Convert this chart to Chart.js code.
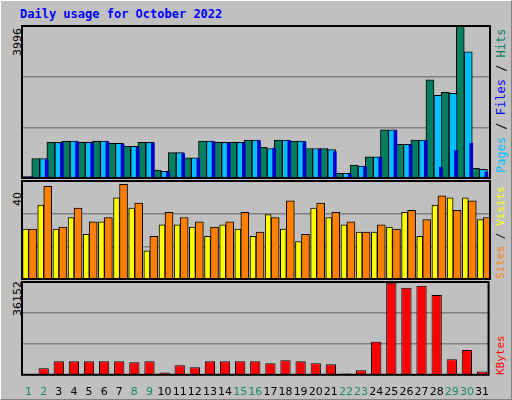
<!DOCTYPE html>
<html>
<head>
<meta charset="utf-8">
<script src="https://cdn.jsdelivr.net/npm/chart.js@4"></script>
<style>
  html, body { margin: 0; padding: 0; background: #c0c0c0; }
  #wrap { position: relative; width: 510px; height: 398px; border-top: 1px solid #fff; border-left: 1px solid #fff;
          border-right: 1px solid #808080; border-bottom: 1px solid #808080; overflow: hidden; }
  canvas { position: absolute; }
  .t { position: absolute; font-family: "DejaVu Sans Mono", monospace; font-size: 12px; white-space: nowrap; }
  .rot { transform-origin: 0 0; transform: rotate(-90deg); font-family: "DejaVu Sans", sans-serif; font-size: 11px; }
  .rmono { font-family: "DejaVu Sans Mono", monospace; }
</style>
</head>
<body>
<div id="wrap">
  <div class="t" style="left:19px;top:6px;color:#0000ff;font-weight:bold;">Daily usage for October 2022</div>
  <div class="t rot" style="left:10px;top:55px;color:#000;">3996</div>
  <div class="t rot" style="left:10px;top:205px;color:#000;">40</div>
  <div class="t rot" style="left:10px;top:315px;color:#000;">36152</div>
  <div class="t rot rmono" style="left:493px;top:172px;font-size:12px;"><span style="color:#00bfff">Pages</span> / <span style="color:#0000ff">Files</span> / <span style="color:#007f60">Hits</span></div>
  <div class="t rot rmono" style="left:493px;top:278px;"><span style="color:#ff8000">Sites</span> / <span style="color:#ffff00">Visits</span></div>
  <div class="t rot rmono" style="left:493px;top:374px;"><span style="color:#ff0000">KBytes</span></div>
  <canvas id="c1" style="left:20px;top:24px;width:470px;height:154px"></canvas>
  <canvas id="c2" style="left:20px;top:179px;width:470px;height:100px"></canvas>
  <canvas id="c3" style="left:20px;top:280px;width:470px;height:120px"></canvas>
</div>
<script>
const days = ['1','2','3','4','5','6','7','8','9','10','11','12','13','14','15','16','17','18','19','20','21','22','23','24','25','26','27','28','29','30','31'];
const weekend = ['1','2','8','9','15','16','22','23','29','30'];
const hits  = [63,531,954,981,954,981,927,846,954,225,684,549,981,954,954,1008,819,1008,981,792,792,144,360,576,1278,900,1008,2574,2250,3996,279];
const files = [63,531,954,981,954,981,927,846,954,198,684,549,981,954,954,1008,792,1008,981,792,765,144,333,576,1278,900,1008,2169,2223,3303,252];
const pages = [55,500,930,960,930,960,900,820,930,180,660,530,960,930,930,990,800,990,960,770,711,120,320,560,1250,880,990,306,738,927,180];
const sites  = [20.4,30,20.4,25,18.3,23.3,32.9,28.8,11.7,22.1,22.1,21.2,17.5,22.1,20.4,17.5,26.2,20.4,15.4,28.8,25,22.1,19.2,19.2,21.2,27.1,17.5,30,32.9,32.9,24.2];
const visits = [20.4,37.5,21.2,28.8,23.3,25,38.3,30.8,17.5,27.1,25,23.3,21.2,23.3,27.1,19.2,25,31.7,18.3,30.8,27.1,23.3,19.2,22.1,20.4,27.9,24.2,33.7,27.9,31.7,25];
const kbytes = [518,2851,5573,5573,5573,5573,5573,5184,5573,1296,4018,3240,5573,5573,5573,5573,4795,5962,5573,4795,4406,907,2074,12960,35510,33566,34344,30845,6350,9850,1685];
const maxTop = 3996, maxMid = 40, maxBot = 36152;

const frame = {
  id: 'frame',
  afterDraw(chart) {
    const a = chart.chartArea, ctx = chart.ctx;
    ctx.save();
    ctx.strokeStyle = '#000';
    ctx.lineWidth = 2;
    ctx.strokeRect(a.left + 1, a.top + 1, a.right - a.left - 2, a.bottom - a.top - 2);
    ctx.restore();
  }
};

// hidden category axis nudged sideways so bars of one day overlap like the original
function shifted(dx) {
  return {
    type: 'category', display: false,
    afterUpdate: s => { s._startPixel += dx; }
  };
}

function yAxis(max) {
  return {
    min: 0, max: max,
    ticks: { display: false, stepSize: max / 3 },
    grid: { color: c => (c.tick.value > 0 && c.tick.value < max) ? '#808080' : 'rgba(0,0,0,0)', lineWidth: 1.5, drawTicks: false },
    border: { display: false }
  };
}

const xMain = {
  grid: { display: false },
  border: { display: false },
  ticks: {
    autoSkip: false, maxRotation: 0, padding: 2,
    font: { family: 'DejaVu Sans', size: 11 },
    color: c => weekend.includes(days[c.index]) ? '#1a8a6a' : '#000'
  }
};

const base = {
  responsive: false,
  animation: false,
  layout: { padding: 0 },
  plugins: { legend: { display: false }, tooltip: { enabled: false } }
};

function mk(id, w, h) {
  const c = document.getElementById(id);
  c.width = w; c.height = h;
  return c;
}

new Chart(mk('c1', 470, 154), {
  type: 'bar',
  data: {
    labels: days,
    datasets: [
      { data: hits, xAxisID: 'xh', backgroundColor: '#007f60', borderColor: '#000', borderWidth: 1, barThickness: 8, order: 3 },
      { data: files, xAxisID: 'xf', backgroundColor: '#00bfff', borderColor: '#000', borderWidth: 1, barThickness: 8, order: 2 },
      { data: pages, xAxisID: 'xp', backgroundColor: '#0000c8', borderWidth: 0, barThickness: 3, order: 1 }
    ]
  },
  options: { ...base, scales: { xh: shifted(-2.5), xf: shifted(2.5), xp: shifted(-0.5), y: yAxis(maxTop) } },
  plugins: [frame]
});

new Chart(mk('c2', 470, 100), {
  type: 'bar',
  data: {
    labels: days,
    datasets: [
      { data: sites, xAxisID: 'xs', backgroundColor: '#ffff00', borderColor: '#000', borderWidth: 1, barThickness: 6, order: 2 },
      { data: visits, xAxisID: 'xv', backgroundColor: '#ff8000', borderColor: '#000', borderWidth: 1, barThickness: 8, order: 1 }
    ]
  },
  options: { ...base, scales: { xs: shifted(-2.5), xv: shifted(2), y: yAxis(maxMid) } },
  plugins: [frame]
});

new Chart(mk('c3', 470, 120), {
  type: 'bar',
  data: {
    labels: days,
    datasets: [
      { data: kbytes, backgroundColor: '#ff0000', borderColor: '#000', borderWidth: 1, categoryPercentage: 0.68, barPercentage: 1.0 }
    ]
  },
  options: { ...base, scales: { x: xMain, y: yAxis(maxBot) } },
  plugins: [frame]
});
</script>
</body>
</html>
